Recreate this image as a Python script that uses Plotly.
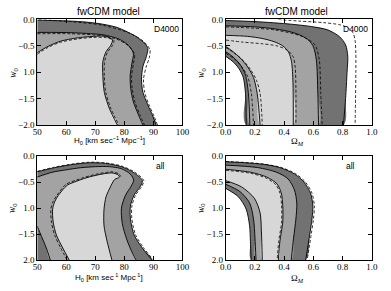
import plotly.graph_objects as go

# ---------------- axis ticks / labels ----------------
W_TICKS = [-2.0, -1.5, -1.0, -0.5, 0.0]
W_LABELS_TOP = ["\u22122.0", "\u22121.5", "1.0", "\u22120.5", "0.0"]
W_LABELS_BOT = ["2.0", "\u22121.5", "1.0", "\u22120.5", "0.0"]
H0_TICKS = [50, 60, 70, 80, 90, 100]
H0_LABELS = ["50", "60", "70", "80", "90", "100"]
OM_TICKS = [0.0, 0.2, 0.4, 0.6, 0.8, 1.0]
OM_LABELS = ["0.0", "0.2", "0.4", "0.6", "0.8", "1.0"]
H0_RANGE = [50, 100]
OM_RANGE = [0.0, 1.0]
W_RANGE = [-2.0, 0.0]

# ---------------- top-left: H0 vs w0 (D4000) ----------------
TL_DARK_H0 = [50.0, 55.0, 61.4, 67.0, 72.6, 77.5, 81.4, 84.0, 85.9, 87.3, 88.1, 87.6, 86.4, 85.9, 86.4, 88.1, 89.8, 90.9]
TL_DARK_W = [-0.01, -0.02, -0.03, -0.05, -0.09, -0.15, -0.245, -0.32, -0.40, -0.47, -0.55, -0.70, -0.89, -1.13, -1.38, -1.62, -1.83, -2.0]
TL_MID_H0 = [50.0, 55.0, 61.4, 67.0, 72.6, 78.1, 81.4, 83.1, 82.6, 82.0, 82.2, 83.1, 84.8, 86.4]
TL_MID_W = [-0.245, -0.245, -0.25, -0.265, -0.29, -0.37, -0.49, -0.64, -0.83, -1.07, -1.31, -1.56, -1.80, -2.0]
TL_LIGHT_H0 = [50.0, 53.7, 58.1, 63.7, 69.2, 73.7, 75.9, 75.3, 73.7, 72.6, 72.6, 73.1, 74.8, 77.6]
TL_LIGHT_W = [-0.63, -0.51, -0.41, -0.35, -0.32, -0.32, -0.385, -0.49, -0.61, -0.80, -1.07, -1.38, -1.68, -2.0]
TL_DASH1_H0 = [50.5, 61.4, 72.6, 81.8, 86.5, 88.8, 88.6, 87.5, 86.6, 87.0, 88.5, 90.2, 91.4]
TL_DASH1_W = [0.0, -0.04, -0.11, -0.26, -0.41, -0.57, -0.72, -0.90, -1.13, -1.38, -1.62, -1.83, -2.0]
TL_DASH2_H0 = [50.0, 61.4, 72.6, 78.1, 81.6, 83.5, 83.1, 82.5, 82.7, 83.6, 85.3, 86.9]
TL_DASH2_W = [-0.27, -0.27, -0.31, -0.39, -0.51, -0.66, -0.84, -1.08, -1.31, -1.56, -1.80, -2.0]
TL_DASH3_H0 = [50.0, 53.7, 58.1, 63.7, 69.2, 73.7, 76.4, 75.8, 74.2, 73.2, 73.1, 73.6, 75.3, 78.1]
TL_DASH3_W = [-0.66, -0.53, -0.43, -0.37, -0.34, -0.345, -0.40, -0.50, -0.62, -0.80, -1.07, -1.38, -1.68, -2.0]

# ---------------- top-right: Omega_M vs w0 (D4000) ----------------
TR_DARK_OUT_OM = [0.0, 0.2, 0.45, 0.6, 0.7, 0.78, 0.82, 0.835, 0.83, 0.82, 0.805]
TR_DARK_OUT_W = [-0.02, -0.04, -0.09, -0.14, -0.2, -0.33, -0.48, -0.7, -1.0, -1.5, -2.0]
TR_DARK_IN_OM = [0.0, 0.05, 0.09, 0.12, 0.135, 0.14]
TR_DARK_IN_W = [-0.70, -0.80, -0.93, -1.1, -1.4, -2.0]
TR_MID_OUT_OM = [0.0, 0.2, 0.34, 0.45, 0.52, 0.57, 0.6, 0.62, 0.63, 0.635]
TR_MID_OUT_W = [-0.12, -0.14, -0.18, -0.24, -0.31, -0.4, -0.52, -0.77, -1.4, -2.0]
TR_MID_IN_OM = [0.0, 0.05, 0.1, 0.135, 0.155, 0.165]
TR_MID_IN_W = [-0.61, -0.71, -0.86, -1.05, -1.4, -2.0]
TR_LIGHT_OUT_OM = [0.0, 0.15, 0.25, 0.33, 0.39, 0.43, 0.45, 0.46, 0.462]
TR_LIGHT_OUT_W = [-0.3, -0.32, -0.36, -0.42, -0.5, -0.62, -0.8, -1.2, -2.0]
TR_LIGHT_IN_OM = [0.0, 0.05, 0.1, 0.15, 0.19, 0.215, 0.235]
TR_LIGHT_IN_W = [-0.51, -0.61, -0.73, -0.9, -1.1, -1.4, -2.0]
TR_DASH1_OM = [0.36, 0.5, 0.67, 0.78, 0.83, 0.87, 0.885, 0.89, 0.89, 0.888, 0.885]
TR_DASH1_W = [0.0, -0.03, -0.06, -0.1, -0.15, -0.25, -0.4, -0.64, -1.0, -1.5, -2.0]
TR_DASH2_OM = [0.0, 0.34, 0.53, 0.61, 0.64, 0.65, 0.66]
TR_DASH2_W = [-0.14, -0.2, -0.33, -0.48, -0.77, -1.4, -2.0]
TR_DASH3_OM = [0.0, 0.12, 0.25, 0.35, 0.42, 0.46, 0.475, 0.48, 0.48]
TR_DASH3_W = [-0.39, -0.43, -0.46, -0.5, -0.58, -0.7, -0.9, -1.3, -2.0]
TR_DASH4_OM = [0.0, 0.06, 0.12, 0.17, 0.21, 0.235, 0.25]
TR_DASH4_W = [-0.53, -0.64, -0.78, -0.95, -1.15, -1.4, -2.0]
TR_DASH5_OM = [0.0, 0.06, 0.11, 0.15, 0.175, 0.19]
TR_DASH5_W = [-0.64, -0.75, -0.9, -1.08, -1.4, -2.0]

# ---------------- bottom-left: H0 vs w0 (all) ----------------
BL_DARK_H0 = [50.0, 55.9, 62.5, 68.0, 73.5, 79.0, 83.4, 86.2, 85.4, 83.4, 82.1, 82.1, 83.4, 86.2, 89.5]
BL_DARK_W = [-0.30, -0.22, -0.155, -0.124, -0.137, -0.2, -0.32, -0.47, -0.59, -0.745, -0.96, -1.21, -1.52, -1.77, -2.0]
BL_MID_H0 = [50.0, 55.0, 60.0, 65.0, 70.0, 75.0, 79.0, 82.0, 83.2, 82.3, 80.4, 79.0, 79.3, 80.8, 82.4, 84.0]
BL_MID_W = [-0.40, -0.31, -0.26, -0.22, -0.2, -0.2, -0.24, -0.34, -0.46, -0.58, -0.75, -1.0, -1.3, -1.6, -1.82, -2.0]
BL_MIDLL_H0 = [50.0, 51.5, 53.0, 54.5]
BL_MIDLL_W = [-1.35, -1.55, -1.75, -2.0]
BL_LIGHT_H0 = [61.0, 58.8, 56.6, 55.5, 55.3, 56.0, 57.2, 60.3, 63.6, 65.8, 68.5, 71.3, 73.7, 75.7, 77.7, 78.3, 76.6, 75.2, 73.7, 73.0, 73.0, 74.1, 75.7]
BL_LIGHT_W = [-2.0, -1.77, -1.52, -1.27, -1.02, -0.88, -0.76, -0.56, -0.48, -0.435, -0.39, -0.354, -0.33, -0.32, -0.354, -0.40, -0.45, -0.59, -0.78, -1.02, -1.34, -1.65, -2.0]
BL_DASH1_H0 = [50.0, 55.9, 62.5, 68.0, 73.5, 79.2, 83.7, 86.7, 85.9, 83.9, 82.6, 82.6, 83.9, 86.7, 90.0]
BL_DASH1_W = [-0.29, -0.21, -0.145, -0.114, -0.127, -0.19, -0.31, -0.47, -0.59, -0.745, -0.96, -1.21, -1.52, -1.77, -2.0]
BL_DASH2_H0 = [60.3, 58.1, 56.0, 54.9, 54.7, 55.4, 56.7, 59.9, 63.4, 65.7, 68.5, 71.3, 73.8, 75.9, 78.1, 78.8]
BL_DASH2_W = [-2.0, -1.77, -1.52, -1.27, -1.02, -0.88, -0.76, -0.54, -0.46, -0.415, -0.37, -0.334, -0.31, -0.30, -0.34, -0.39]

# ---------------- bottom-right: Omega_M vs w0 (all) ----------------
BR_DARK_OUT_OM = [0.0, 0.13, 0.26, 0.37, 0.47, 0.536, 0.58, 0.596, 0.59, 0.574, 0.547]
BR_DARK_OUT_W = [-0.105, -0.124, -0.155, -0.217, -0.34, -0.5, -0.71, -0.96, -1.21, -1.52, -2.0]
BR_DARK_IN_OM = [0.0, 0.086, 0.14, 0.163, 0.169, 0.174]
BR_DARK_IN_W = [-0.62, -0.78, -1.02, -1.34, -1.65, -2.0]
BR_MID_OUT_OM = [0.0, 0.218, 0.35, 0.426, 0.47, 0.486, 0.48, 0.464, 0.448]
BR_MID_OUT_W = [-0.17, -0.217, -0.31, -0.435, -0.65, -0.9, -1.21, -1.58, -2.0]
BR_MID_IN_OM = [0.0, 0.097, 0.163, 0.19, 0.2, 0.207]
BR_MID_IN_W = [-0.54, -0.68, -0.9, -1.21, -1.58, -2.0]
BR_LIGHT_OUT_OM = [0.0, 0.174, 0.28, 0.35, 0.38, 0.39, 0.39, 0.37, 0.36]
BR_LIGHT_OUT_W = [-0.25, -0.31, -0.40, -0.53, -0.71, -0.96, -1.27, -1.65, -2.0]
BR_LIGHT_IN_OM = [0.0, 0.108, 0.196, 0.235, 0.244, 0.25]
BR_LIGHT_IN_W = [-0.47, -0.59, -0.81, -1.09, -1.46, -2.0]
BR_DASH1_OM = [0.0, 0.13, 0.26, 0.375, 0.478, 0.546, 0.59, 0.606, 0.6, 0.584, 0.557]
BR_DASH1_W = [-0.1, -0.118, -0.15, -0.212, -0.335, -0.5, -0.71, -0.96, -1.21, -1.52, -2.0]
BR_DASH2_OM = [0.0, 0.174, 0.276, 0.343, 0.372, 0.382, 0.382, 0.362, 0.352]
BR_DASH2_W = [-0.27, -0.33, -0.42, -0.55, -0.72, -0.96, -1.27, -1.65, -2.0]

# ---------------- styling ----------------
LIGHT = "#d7d7d7"
MID = "#a3a3a3"
DARK = "#727272"
W_FIG, H_FIG = 391, 291
SANS = "Liberation Sans, Arial, sans-serif"
SERIF = "Liberation Serif, Times New Roman, serif"

fig = go.Figure()


def fill(ax, xs, ys, color):
    fig.add_trace(go.Scatter(x=xs, y=ys, mode="lines", fill="toself", fillcolor=color,
                             line=dict(width=0, color=color, shape="spline", smoothing=0.8),
                             hoverinfo="skip", showlegend=False,
                             xaxis="x" + ax, yaxis="y" + ax))


def line(ax, xs, ys, dash="solid", width=0.9):
    fig.add_trace(go.Scatter(x=xs, y=ys, mode="lines",
                             line=dict(width=width, color="black", dash=dash, shape="spline", smoothing=0.8),
                             hoverinfo="skip", showlegend=False,
                             xaxis="x" + ax, yaxis="y" + ax))


def corner_region(ax, xs, ys, cx, cy, color):
    fill(ax, xs + [cx], ys + [cy], color)


def band_region(ax, ox, oy, ix, iy, color):
    fill(ax, ox + ix[::-1], oy + iy[::-1], color)


DASH = "3px,2px"

# top-left
corner_region("", TL_DARK_H0, TL_DARK_W, H0_RANGE[0], W_RANGE[0], DARK)
corner_region("", TL_MID_H0, TL_MID_W, H0_RANGE[0], W_RANGE[0], MID)
corner_region("", TL_LIGHT_H0, TL_LIGHT_W, H0_RANGE[0], W_RANGE[0], LIGHT)
for xs, ys in [(TL_DARK_H0, TL_DARK_W), (TL_MID_H0, TL_MID_W), (TL_LIGHT_H0, TL_LIGHT_W)]:
    line("", xs, ys)
for xs, ys in [(TL_DASH1_H0, TL_DASH1_W), (TL_DASH2_H0, TL_DASH2_W), (TL_DASH3_H0, TL_DASH3_W)]:
    line("", xs, ys, DASH, 0.8)

# top-right
band_region("2", TR_DARK_OUT_OM, TR_DARK_OUT_W, TR_DARK_IN_OM, TR_DARK_IN_W, DARK)
band_region("2", TR_MID_OUT_OM, TR_MID_OUT_W, TR_MID_IN_OM, TR_MID_IN_W, MID)
band_region("2", TR_LIGHT_OUT_OM, TR_LIGHT_OUT_W, TR_LIGHT_IN_OM, TR_LIGHT_IN_W, LIGHT)
for xs, ys in [(TR_DARK_OUT_OM, TR_DARK_OUT_W), (TR_DARK_IN_OM, TR_DARK_IN_W),
               (TR_MID_OUT_OM, TR_MID_OUT_W), (TR_MID_IN_OM, TR_MID_IN_W),
               (TR_LIGHT_OUT_OM, TR_LIGHT_OUT_W), (TR_LIGHT_IN_OM, TR_LIGHT_IN_W)]:
    line("2", xs, ys)
for xs, ys in [(TR_DASH1_OM, TR_DASH1_W), (TR_DASH2_OM, TR_DASH2_W), (TR_DASH3_OM, TR_DASH3_W),
               (TR_DASH4_OM, TR_DASH4_W), (TR_DASH5_OM, TR_DASH5_W)]:
    line("2", xs, ys, DASH, 0.8)

# bottom-left
corner_region("3", BL_DARK_H0, BL_DARK_W, H0_RANGE[0], W_RANGE[0], DARK)
band_region("3", BL_MID_H0, BL_MID_W, BL_MIDLL_H0, BL_MIDLL_W, MID)
fill("3", BL_LIGHT_H0, BL_LIGHT_W, LIGHT)
for xs, ys in [(BL_DARK_H0, BL_DARK_W), (BL_MID_H0, BL_MID_W), (BL_MIDLL_H0, BL_MIDLL_W),
               (BL_LIGHT_H0, BL_LIGHT_W)]:
    line("3", xs, ys)
for xs, ys in [(BL_DASH1_H0, BL_DASH1_W), (BL_DASH2_H0, BL_DASH2_W)]:
    line("3", xs, ys, DASH, 0.8)

# bottom-right
band_region("4", BR_DARK_OUT_OM, BR_DARK_OUT_W, BR_DARK_IN_OM, BR_DARK_IN_W, DARK)
band_region("4", BR_MID_OUT_OM, BR_MID_OUT_W, BR_MID_IN_OM, BR_MID_IN_W, MID)
band_region("4", BR_LIGHT_OUT_OM, BR_LIGHT_OUT_W, BR_LIGHT_IN_OM, BR_LIGHT_IN_W, LIGHT)
for xs, ys in [(BR_DARK_OUT_OM, BR_DARK_OUT_W), (BR_DARK_IN_OM, BR_DARK_IN_W),
               (BR_MID_OUT_OM, BR_MID_OUT_W), (BR_MID_IN_OM, BR_MID_IN_W),
               (BR_LIGHT_OUT_OM, BR_LIGHT_OUT_W), (BR_LIGHT_IN_OM, BR_LIGHT_IN_W)]:
    line("4", xs, ys)
for xs, ys in [(BR_DASH1_OM, BR_DASH1_W), (BR_DASH2_OM, BR_DASH2_W)]:
    line("4", xs, ys, DASH, 0.8)


def px_x(p):
    return p / W_FIG


def px_y(p):
    return 1 - p / H_FIG


LEFT_DOM = [px_x(32.3), px_x(182.5)]
RIGHT_DOM = [px_x(227.3), px_x(378.5)]
TOP_DOM = [px_y(124.3), px_y(15.0)]
BOT_DOM = [px_y(264.0), px_y(156.7)]

tickfont = dict(family=SERIF, size=9, color="black")
common = dict(showline=True, linecolor="black", linewidth=1, mirror="ticks", ticks="inside",
              ticklen=4, tickwidth=0.8, tickcolor="black", showgrid=False, zeroline=False,
              tickfont=tickfont, fixedrange=True)


def xax(dom, anchor, rng, tv, tt):
    return dict(domain=dom, anchor=anchor, range=rng, tickvals=tv, ticktext=tt,
                ticklabelstandoff=-2, **common)


def yax(dom, anchor, tt):
    return dict(domain=dom, anchor=anchor, range=W_RANGE, tickvals=W_TICKS, ticktext=tt, **common)


annotations = []


def text(px, py, s, size, xanchor="center", angle=0, family=SANS):
    annotations.append(dict(x=px_x(px), y=px_y(py), xref="paper", yref="paper", text=s,
                            showarrow=False, xanchor=xanchor, yanchor="middle", textangle=angle,
                            font=dict(family=family, size=size, color="black")))


text(106, 6.5, "fwCDM model", 10)
text(301, 6.5, "fwCDM model", 10)
text(181, 25, "D4000", 8.5, "right")
text(377, 25, "D4000", 8.5, "right")
text(167, 166.5, "all", 8.5, "right")
text(363, 166.5, "all", 8.5, "right")
text(107, 140.5, "H<sub>0</sub> [km sec<sup>\u22121</sup> Mpc<sup>\u22121</sup>]", 8)
text(107, 282.5, "H<sub>0</sub> [km sec<sup>\u00a01</sup> Mpc<sup>\u00a01</sup>]", 8)
text(302, 141, "\u03a9<sub><i>M</i></sub>", 9, family=SERIF)
text(302, 283, "\u03a9<sub><i>M</i></sub>", 9, family=SERIF)
text(7.5, 70, "<i>w</i><sub>0</sub>", 9.5, angle=-90, family=SERIF)
text(202, 70, "<i>w</i><sub>0</sub>", 9.5, angle=-90, family=SERIF)
text(7.5, 210, "<i>w</i><sub>0</sub>", 9.5, angle=-90, family=SERIF)
text(202, 210, "<i>w</i><sub>0</sub>", 9.5, angle=-90, family=SERIF)

fig.update_layout(
    width=W_FIG, height=H_FIG, margin=dict(l=0, r=0, t=0, b=0),
    paper_bgcolor="white", plot_bgcolor="white", showlegend=False,
    xaxis=xax(LEFT_DOM, "y", H0_RANGE, H0_TICKS, H0_LABELS),
    yaxis=yax(TOP_DOM, "x", W_LABELS_TOP),
    xaxis2=xax(RIGHT_DOM, "y2", OM_RANGE, OM_TICKS, OM_LABELS),
    yaxis2=yax(TOP_DOM, "x2", W_LABELS_TOP),
    xaxis3=xax(LEFT_DOM, "y3", H0_RANGE, H0_TICKS, H0_LABELS),
    yaxis3=yax(BOT_DOM, "x3", W_LABELS_BOT),
    xaxis4=xax(RIGHT_DOM, "y4", OM_RANGE, OM_TICKS, OM_LABELS),
    yaxis4=yax(BOT_DOM, "x4", W_LABELS_BOT),
    annotations=annotations,
)

fig.write_html("out.html", config={"displayModeBar": False},
               post_script="document.body.style.margin='0px';document.body.style.padding='0px';")
